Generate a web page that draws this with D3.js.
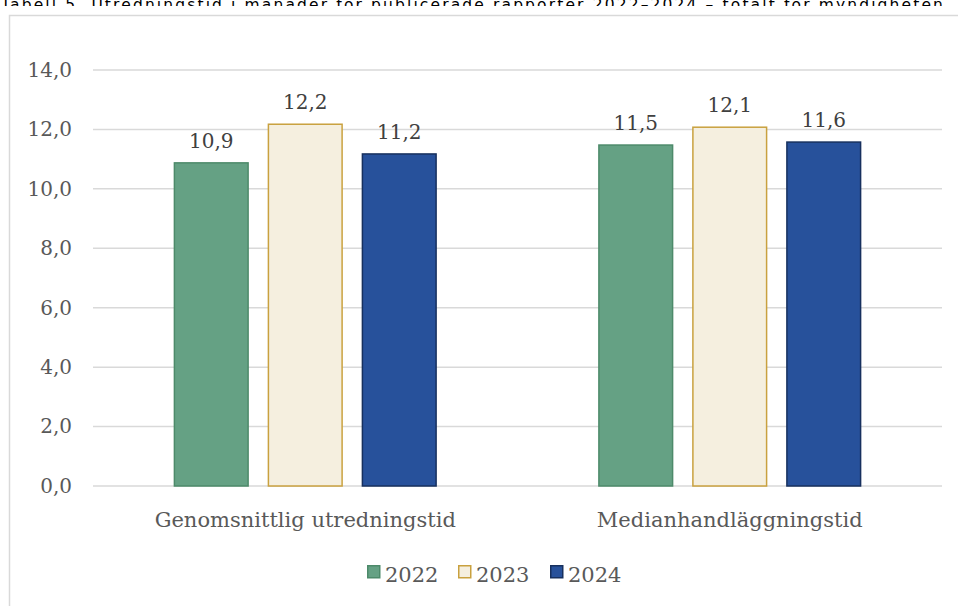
<!DOCTYPE html>
<html><head><meta charset="utf-8">
<script src="https://cdn.jsdelivr.net/npm/d3@7"></script>
<style>html,body{margin:0;padding:0;background:#fff;overflow:hidden}</style>
</head><body>
<script>
const title = "Tabell 5. Utredningstid i månader för publicerade rapporter 2022–2024 – totalt för myndigheten.";
const categories = ["Genomsnittlig utredningstid", "Medianhandläggningstid"];
const seriesNames = ["2022", "2023", "2024"];
const values2022 = [10.9, 11.5];
const values2023 = [12.2, 12.1];
const values2024 = [11.2, 11.6];
const yTicks = [0, 2, 4, 6, 8, 10, 12, 14];

const fills = ["#65a184", "#f5efdf", "#27519b"];
const strokes = ["#4d8a6a", "#c9a13f", "#17305e"];
const serif = "Georgia, 'DejaVu Serif', serif";

const W = 958, H = 606;
const svg = d3.select("body").append("svg").attr("width", W).attr("height", H);

// clipped title (only its top edge is visible, as in the reference)
svg.append("text").attr("x", 1).attr("y", 10)
  .attr("font-family", "'DejaVu Sans', sans-serif").attr("font-size", 15.5)
  .attr("fill", "#000").attr("textLength", 949).text(title);
svg.append("rect").attr("x", 0).attr("y", 6).attr("width", W).attr("height", H).attr("fill", "#fff");
// frame
svg.append("path").attr("d", `M9.5,${H} V15.5 H${W}`).attr("fill", "none")
  .attr("stroke", "#d9d9d9").attr("stroke-width", 1.5);

const table = categories.map((c, i) => ({cat: c, vals: [values2022[i], values2023[i], values2024[i]]}));

const x0 = d3.scaleBand().domain(categories).range([93, 942]).padding(0);
const x1 = d3.scaleBand().domain(seriesNames).range([0, x0.bandwidth()])
  .paddingInner(0.2).paddingOuter(0.858);
const y = d3.scaleLinear().domain([0, 14]).range([486, 70]);

// gridlines
svg.append("g").selectAll("line").data(yTicks).join("line")
  .attr("x1", 93).attr("x2", 942)
  .attr("y1", d => y(d)).attr("y2", d => y(d))
  .attr("stroke", "#d9d9d9").attr("stroke-width", 1.5);

// y axis labels
const fmt = d => d3.format(".1f")(d).replace(".", ",");
const yAxis = d3.axisLeft(y).tickValues(yTicks).tickFormat(fmt).tickSize(0).tickPadding(0);
const gy = svg.append("g").attr("transform", "translate(72,0)").call(yAxis);
gy.select(".domain").remove();
gy.selectAll("text").attr("font-family", serif).attr("font-size", 20).attr("fill", "#595959");

// bars
const groups = svg.append("g").selectAll("g").data(table).join("g")
  .attr("transform", d => `translate(${x0(d.cat)},0)`);
groups.selectAll("rect").data(d => d.vals.map((v, i) => ({v, i}))).join("rect")
  .attr("x", d => x1(seriesNames[d.i]) + 0.75)
  .attr("width", x1.bandwidth() - 1.5)
  .attr("y", d => y(d.v) + 0.75)
  .attr("height", d => y(0) - y(d.v) - 0.75)
  .attr("fill", d => fills[d.i]).attr("stroke", d => strokes[d.i]).attr("stroke-width", 1.5);
groups.selectAll("text").data(d => d.vals.map((v, i) => ({v, i}))).join("text")
  .attr("x", d => x1(seriesNames[d.i]) + x1.bandwidth() / 2)
  .attr("y", d => y(d.v) - 14)
  .attr("text-anchor", "middle")
  .attr("font-family", serif).attr("font-size", 20).attr("fill", "#404040")
  .text(d => fmt(d.v));

// x axis labels
const xAxis = d3.axisBottom(x0).tickSize(0).tickPadding(0);
const gx = svg.append("g").attr("transform", "translate(0,527)").call(xAxis);
gx.select(".domain").remove();
gx.selectAll("text").attr("dy", 0).attr("font-family", serif).attr("font-size", 21).attr("fill", "#595959");

// legend
const legendX = [367, 458, 550];
const lg = svg.append("g").selectAll("g").data(seriesNames).join("g")
  .attr("transform", (d, i) => `translate(${legendX[i]},565)`);
lg.append("rect").attr("x", 0.75).attr("y", 0.75).attr("width", 12).attr("height", 12)
  .attr("fill", (d, i) => fills[i]).attr("stroke", (d, i) => strokes[i]).attr("stroke-width", 1.5);
lg.append("text").attr("x", 18).attr("y", 16.5)
  .attr("font-family", serif).attr("font-size", 21).attr("fill", "#595959").text(d => d);
</script>
</body></html>
